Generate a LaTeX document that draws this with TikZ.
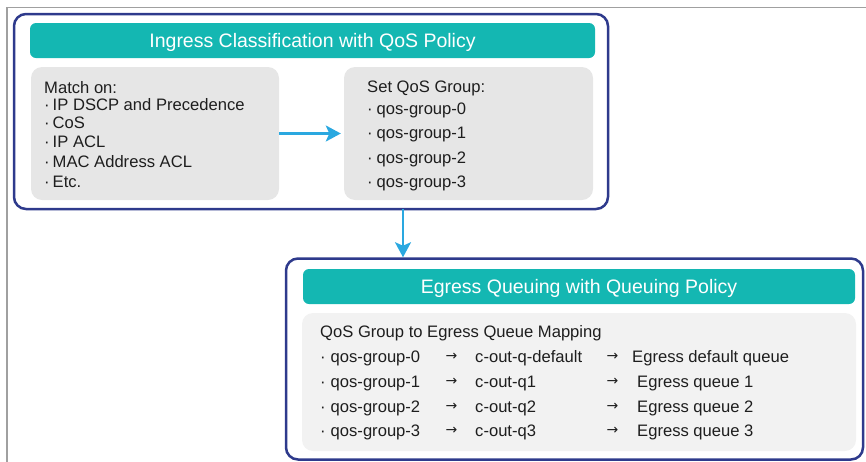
\documentclass[tikz,border=0pt]{standalone}
\usepackage{fontspec}
\setmainfont{Liberation Sans}
\newfontfamily\symfont{DejaVu Sans}
\usetikzlibrary{arrows.meta}

\definecolor{navy}{HTML}{2E3A8C}
\definecolor{hdrteal}{HTML}{14B7B2}
\definecolor{panelgray}{HTML}{E6E6E6}
\definecolor{panellight}{HTML}{F2F2F2}
\definecolor{flowblue}{HTML}{2AA8E0}
\definecolor{framegray}{HTML}{A0A0A0}
\definecolor{ink}{HTML}{1E1E1E}

\tikzset{
  stagebox/.style={draw=navy, line width=2.5pt, rounded corners=12pt, inner sep=0pt},
  hdrbar/.style={fill=hdrteal, rounded corners=6pt, inner sep=0pt, text=white,
    font=\fontsize{19.5}{22}\selectfont, text height=14pt, text depth=0pt},
  panel/.style={fill=panelgray, rounded corners=11pt, inner sep=0pt},
  lightpanel/.style={fill=panellight, rounded corners=11pt, inner sep=0pt},
  txt/.style={anchor=base west, inner sep=0pt, text=ink, font=\fontsize{16.6}{20}\selectfont},
  maparrow/.style={anchor=center, inner sep=0pt, text=ink, font=\symfont\fontsize{14}{16}\selectfont},
  flow/.style={draw=flowblue, line width=2.4pt, -{Stealth[length=15pt, width=16pt, inset=3.5pt]}},
}

\begin{document}
\begin{tikzpicture}[x=1pt, y=-1pt]
\useasboundingbox (0,0) rectangle (866,461);

% outer frame lines along the top and left edges
\draw[framegray, line width=1.6pt] (7,470) -- (7,7.5) -- (875,7.5);

% ---- ingress stage ----
\node[stagebox, minimum width=594pt, minimum height=195pt] (ingress) at (311,111.5) {};
\node[hdrbar, minimum width=565pt, minimum height=35pt] (inhdr) at (312.5,40.5)
  {Ingress Classification with QoS Policy};
\node[panel, minimum width=248pt, minimum height=133pt] (matchbox) at (155,133.5) {};
\node[panel, minimum width=249pt, minimum height=133pt] (setbox) at (468.5,133.5) {};

\node[txt] (m0) at (44,93)    {Match on:};
\node[txt] (m1) at (44,110)   {·\kern3pt IP DSCP and Precedence};
\node[txt] (m2) at (44,128)   {·\kern3pt CoS};
\node[txt] (m3) at (44,147.5) {·\kern3pt IP ACL};
\node[txt] (m4) at (44,167.5) {·\kern3pt MAC Address ACL};
\node[txt] (m5) at (44,187)   {·\kern3pt Etc.};

\node[txt] (s0) at (367,92)    {Set QoS Group:};
\node[txt] (s1) at (367,114)   {·\kern4pt qos-group-0};
\node[txt] (s2) at (367,138.5) {·\kern4pt qos-group-1};
\node[txt] (s3) at (367,163)   {·\kern4pt qos-group-2};
\node[txt] (s4) at (367,187.5) {·\kern4pt qos-group-3};

\draw[flow, shorten >=3pt] (matchbox.east) -- (setbox.west);

% ---- egress stage ----
\node[stagebox, minimum width=577pt, minimum height=201pt] (egress) at (574.5,359) {};
\node[hdrbar, minimum width=552pt, minimum height=35pt] (eghdr) at (579,286.5)
  {Egress Queuing with Queuing Policy};
\node[lightpanel, minimum width=554pt, minimum height=138pt] (mapbox) at (579,382) {};

\node[txt] (q0) at (320,337) {QoS Group to Egress Queue Mapping};

\node[txt] (g0) at (320,362) {·\kern5pt qos-group-0};
\node[txt] (g1) at (320,387) {·\kern5pt qos-group-1};
\node[txt] (g2) at (320,412) {·\kern5pt qos-group-2};
\node[txt] (g3) at (320,436) {·\kern5pt qos-group-3};

\node[maparrow] (a0) at (451.5,357) {→};
\node[maparrow] (a1) at (451.5,382) {→};
\node[maparrow] (a2) at (451.5,407) {→};
\node[maparrow] (a3) at (451.5,431) {→};

\node[txt] (c0) at (475,362) {c-out-q-default};
\node[txt] (c1) at (475,387) {c-out-q1};
\node[txt] (c2) at (475,412) {c-out-q2};
\node[txt] (c3) at (475,436) {c-out-q3};

\node[maparrow] (b0) at (612.5,357) {→};
\node[maparrow] (b1) at (612.5,382) {→};
\node[maparrow] (b2) at (612.5,407) {→};
\node[maparrow] (b3) at (612.5,431) {→};

\node[txt] (e0) at (632,362) {Egress default queue};
\node[txt] (e1) at (637,387) {Egress queue 1};
\node[txt] (e2) at (637,412) {Egress queue 2};
\node[txt] (e3) at (637,436) {Egress queue 3};

% ---- hand-off from ingress to egress ----
\coordinate (dropx) at (403,0);
\draw[flow, shorten <=-1pt] (ingress.south -| dropx) -- (egress.north -| dropx);

\end{tikzpicture}
\end{document}
